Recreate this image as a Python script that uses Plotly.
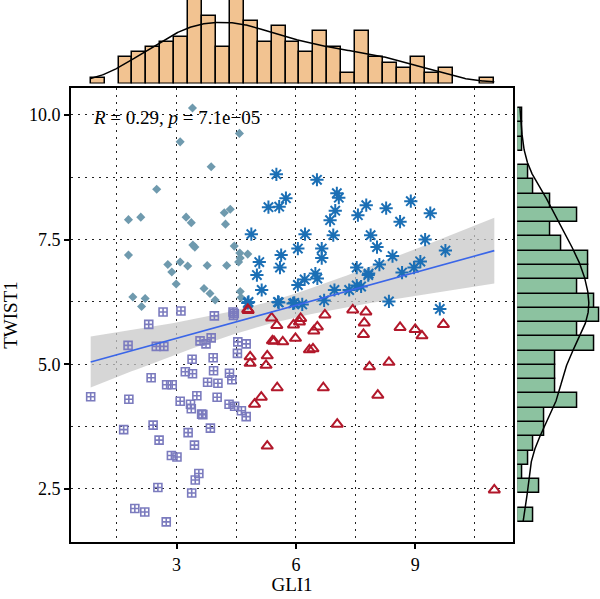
import numpy as np
import plotly.graph_objects as go

# ---------------- data ----------------
diam_x = [3.40,4.58,3.09,3.87,2.50,1.79,2.10,3.24,3.37,4.20,4.35,4.23,1.79,3.41,3.46,4.45,4.59,4.79,4.60,4.56,
          2.78,3.09,3.28,3.77,4.26,2.88,2.99,1.90,2.21,2.12,3.69,3.84,3.97,4.60,4.62]
diam_y = [10.14,9.63,9.46,8.96,8.51,7.90,7.95,7.95,7.84,8.04,8.11,7.81,7.19,7.39,7.35,7.37,7.23,7.21,7.13,7.05,
          7.00,7.05,6.97,6.98,6.98,6.85,6.61,6.35,6.32,6.16,6.52,6.42,6.29,6.46,6.34]

ast_x = [5.51,6.53,7.03,7.08,5.75,5.31,5.58,6.99,6.86,7.56,4.88,6.23,6.94,6.05,6.65,6.65,5.08,5.63,5.60,
         5.02,5.14,6.05,6.22,6.49,6.54,6.97,6.71,7.53,7.34,7.53,5.57,5.96,6.16,4.79,
         7.77,8.27,8.89,8.62,9.38,7.88,9.25,8.04,8.43,9.76,8.10,7.83,7.82,8.67,8.97,9.13,7.64,8.34,9.62,
         4.81,5.55,5.93]
ast_y = [8.81,8.70,8.43,8.34,8.33,8.15,8.16,8.08,7.89,7.99,7.61,7.61,7.59,7.32,7.32,7.13,7.05,7.19,6.94,
         6.79,6.49,6.59,6.70,6.82,6.72,6.49,6.28,6.94,6.49,6.58,6.24,6.23,6.20,6.23,
         8.19,8.13,8.27,7.86,8.03,7.59,7.50,7.35,7.17,7.28,7.00,6.82,6.79,6.84,6.94,7.06,6.56,6.26,6.11,
         6.25,6.25,6.22]

sq_x = [2.66,3.11,3.95,4.42,4.43,2.30,1.78,2.49,2.68,3.59,3.74,3.87,4.54,4.75,4.53,3.39,3.92,3.22,3.40,3.93,
        4.33,4.39,2.36,2.75,2.89,3.78,4.04,0.84,1.80,3.09,3.35,3.37,3.51,4.02,3.63,4.32,4.46,4.63,4.75,1.67,
        2.41,2.56,3.29,3.45,3.85,2.87,3.01,3.56,3.47,2.53,3.38,1.95,2.20,2.74,4.45,3.66]
sq_y = [6.05,6.07,5.97,6.05,5.98,5.80,5.38,5.36,5.36,5.47,5.41,5.53,5.45,5.41,5.22,5.10,5.13,4.85,4.81,4.87,
        4.82,4.69,4.73,4.59,4.59,4.64,4.62,4.35,4.30,4.26,4.20,4.11,4.37,4.34,4.00,4.20,4.16,4.07,3.95,3.69,
        3.78,3.48,3.63,3.38,3.72,3.17,3.14,2.81,2.68,2.53,2.42,2.11,2.04,1.84,6.02,3.99]

tri_x = [4.79,5.39,5.52,5.41,5.67,4.85,4.85,5.28,5.25,5.53,5.13,4.96,5.28,6.12,6.09,5.94,5.99,6.54,6.45,6.73,
         6.34,6.43,7.43,7.76,7.72,7.70,8.62,9.00,9.17,9.71,7.85,8.34,6.69,8.06,7.04,10.99,4.80,5.45]
tri_y = [6.10,5.93,5.78,5.47,5.45,5.15,5.02,5.17,4.98,4.53,4.34,4.20,3.36,5.92,5.85,5.79,5.52,5.75,5.67,5.99,
         5.29,5.31,6.09,6.05,5.83,5.60,5.74,5.70,5.57,5.80,4.95,5.04,4.53,4.38,3.80,2.48,6.08,5.46]

# marginal histogram counts (29 bins each, min..max)
top_counts = [1,0,5,6,7,8,9,16,13,7,16,12,8,11,8,6,10,7,2,10,5,4,3,5,2,3,0,0,1]
right_counts = [3,0,4,1,2,3,5,5,11,7,7,7,14,11,15,14,11,13,13,8,6,11,6,3,2,0,1,1,1]

x_tickvals = [3, 6, 9]
y_tickvals = [2.5, 5.0, 7.5, 10.0]
y_ticktext = ["2.5", "5.0", "7.5", "10.0"]
stat_label = "<i>R</i> = 0.29, <i>p</i> = 7.1e\u221205"

# ---------------- derived ----------------
allx = np.array(diam_x + ast_x + sq_x + tri_x)
ally = np.array(diam_y + ast_y + sq_y + tri_y)
n = len(allx)
nb = 29
xe = np.linspace(allx.min(), allx.max(), nb + 1)
ye = np.linspace(ally.min(), ally.max(), nb + 1)
xbw = xe[1] - xe[0]
ybw = ye[1] - ye[0]
xc = (xe[:-1] + xe[1:]) / 2
yc = (ye[:-1] + ye[1:]) / 2

def kde(v, grid):
    sd = v.std(ddof=1)
    iqr = np.percentile(v, 75) - np.percentile(v, 25)
    bw = 0.9 * min(sd, iqr / 1.34) * len(v) ** (-0.2)
    d = np.exp(-0.5 * ((grid[:, None] - v[None, :]) / bw) ** 2).sum(1) / (len(v) * bw * np.sqrt(2 * np.pi))
    return d

gx = np.linspace(allx.min(), allx.max(), 512)
gy = np.linspace(ally.min(), ally.max(), 512)
dx = kde(allx, gx) * n * xbw
dy = kde(ally, gy) * n * ybw

# linear fit with 95% confidence band
b1, b0 = np.polyfit(allx, ally, 1)
xf = np.linspace(allx.min(), allx.max(), 80)
yf = b0 + b1 * xf
res = ally - (b0 + b1 * allx)
s = np.sqrt((res ** 2).sum() / (n - 2))
sxx = ((allx - allx.mean()) ** 2).sum()
se = s * np.sqrt(1 / n + (xf - allx.mean()) ** 2 / sxx)
tq = 1.973
lo = yf - tq * se
hi = yf + tq * se

FONT = "Liberation Serif"
fig = go.Figure()

fig.add_trace(go.Scatter(x=np.concatenate([xf, xf[::-1]]), y=np.concatenate([hi, lo[::-1]]),
                         fill="toself", fillcolor="rgba(200,200,200,0.75)", line=dict(width=0),
                         mode="lines", hoverinfo="skip", showlegend=False))

fig.add_trace(go.Scatter(x=diam_x, y=diam_y, mode="markers",
                         marker=dict(symbol="diamond", size=7, color="#6F9AAE"), showlegend=False))
fig.add_trace(go.Scatter(x=ast_x, y=ast_y, mode="markers",
                         marker=dict(symbol="asterisk-open", size=11, color="#1B6FB5",
                                     line=dict(width=2, color="#1B6FB5")), showlegend=False))
fig.add_trace(go.Scatter(x=sq_x, y=sq_y, mode="markers",
                         marker=dict(symbol="square-cross-open", size=8, color="#7B7BBE",
                                     line=dict(width=1.6, color="#7B7BBE")), showlegend=False))
fig.add_trace(go.Scatter(x=tri_x, y=tri_y, mode="markers",
                         marker=dict(symbol="triangle-up-open", size=10, color="#B2182B",
                                     line=dict(width=2, color="#B2182B")), showlegend=False))
fig.add_trace(go.Scatter(x=xf, y=yf, mode="lines", line=dict(color="#3A66E8", width=1.6), showlegend=False))

tc = [c if c > 0 else None for c in top_counts]
fig.add_trace(go.Bar(x=xc, y=tc, width=xbw, marker=dict(color="#F2C391", line=dict(color="black", width=1.5)),
                     xaxis="x2", yaxis="y2", showlegend=False))
fig.add_trace(go.Scatter(x=gx, y=dx, mode="lines", line=dict(color="black", width=1.5),
                         xaxis="x2", yaxis="y2", showlegend=False))
rc = [c if c > 0 else None for c in right_counts]
fig.add_trace(go.Bar(y=yc, x=rc, width=ybw, orientation="h",
                     marker=dict(color="#8CC2A0", line=dict(color="black", width=1.5)),
                     xaxis="x3", yaxis="y3", showlegend=False))
fig.add_trace(go.Scatter(x=dy, y=gy, mode="lines", line=dict(color="black", width=1.5),
                         xaxis="x3", yaxis="y3", showlegend=False))

W, H = 600, 599
ml, mr, mt, mb = 71, 0, 0, 57
pw, ph = W - ml - mr, H - mt - mb
main_x_dom = [0, (513 - ml) / pw]
main_y_dom = [0, (542 - 88) / ph]
xr = [0.345, 11.46]
yr = [1.437, 10.54]

gridstyle = dict(showgrid=True, gridcolor="#222222", gridwidth=1.3, griddash="1.5px,5.5px")

fig.update_layout(
    width=W, height=H, margin=dict(l=ml, r=mr, t=mt, b=mb),
    paper_bgcolor="white", plot_bgcolor="white",
    font=dict(family=FONT, color="black", size=18),
    bargap=0,
    xaxis=dict(domain=main_x_dom, range=xr, tickvals=x_tickvals, ticks="outside", ticklen=5, tickwidth=1.5,
               tickcolor="black", showline=True, mirror=True, linecolor="black", linewidth=1.8,
               zeroline=False, tickfont=dict(size=18), title=dict(text="GLI1", font=dict(size=19), standoff=2),
               minor=dict(tick0=0, dtick=1.5, ticklen=0, **gridstyle), **gridstyle),
    yaxis=dict(domain=main_y_dom, range=yr, tickvals=y_tickvals, ticktext=y_ticktext, ticks="outside",
               ticklen=5, tickwidth=1.5, tickcolor="black", showline=True, mirror=True, linecolor="black",
               linewidth=1.8, zeroline=False, tickfont=dict(size=18),
               title=dict(text="TWIST1", font=dict(size=19), standoff=6),
               minor=dict(tick0=0, dtick=1.25, ticklen=0, **gridstyle), **gridstyle),
    xaxis2=dict(domain=main_x_dom, range=xr, anchor="y2", visible=False),
    yaxis2=dict(domain=[(542 - 83.5) / ph, 1], range=[0, 16.05], anchor="x2", visible=False),
    xaxis3=dict(domain=[(517.3 - ml) / pw, 1], range=[0, 15.1], anchor="y3", visible=False),
    yaxis3=dict(domain=main_y_dom, range=yr, anchor="x3", visible=False),
)

fig.add_annotation(x=0.84, y=9.94, xref="x", yref="y", text=stat_label, showarrow=False,
                   xanchor="left", yanchor="middle", font=dict(size=19, family=FONT))

fig.write_html("out.html")
